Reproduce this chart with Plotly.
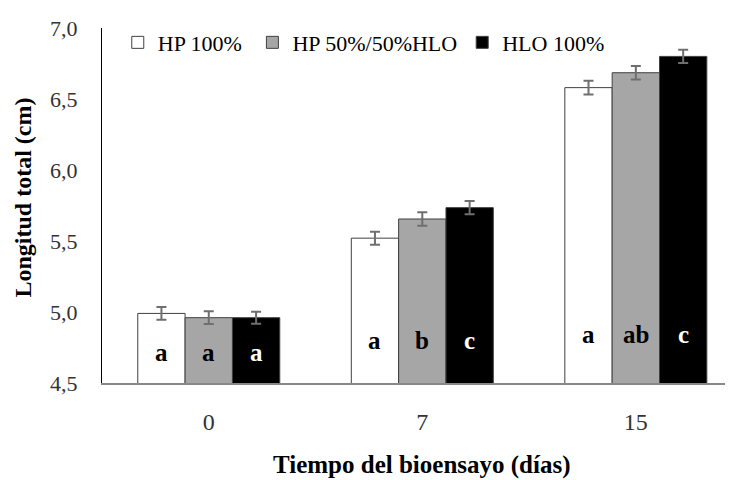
import plotly.graph_objects as go

# ---- data ----
dias = ["0", "7", "15"]
series = ["HP 100%", "HP 50%/50%HLO", "HLO 100%"]
hp100 = [4.99, 5.52, 6.58]
hp50 = [4.96, 5.655, 6.685]
hlo100 = [4.96, 5.735, 6.80]
err_hp100 = [0.045, 0.046, 0.048]
err_hp50 = [0.045, 0.048, 0.048]
err_hlo100 = [0.042, 0.046, 0.046]
letras_hp100 = ["a", "a", "a"]
letras_hp50 = ["a", "b", "ab"]
letras_hlo100 = ["a", "c", "c"]

# ---- layout constants ----
BARGAP = 0.335
letter_y = [4.716, 4.796, 4.842]
FONT = "Liberation Serif"
NB = "\u00a0"
legend_pad = [NB, "", ""]

values = [hp100, hp50, hlo100]
errors = [err_hp100, err_hp50, err_hlo100]
letters = [letras_hp100, letras_hp50, letras_hlo100]
fills = ["#ffffff", "#a6a6a6", "#000000"]
text_colors = ["#000000", "#000000", "#ffffff"]

xpos = list(range(len(dias)))
fig = go.Figure()
for name, pad, vals, errs, fc in zip(series, legend_pad, values, errors, fills):
    fig.add_trace(go.Bar(
        x=xpos, y=vals, name=name + pad,
        marker=dict(color=fc, line=dict(color="#404040", width=1)),
        error_y=dict(type="data", array=errs, color="#6f6f6f", thickness=2, width=5),
    ))

bw = (1 - BARGAP) / len(series)
annotations = []
for j, (labs, tc) in enumerate(zip(letters, text_colors)):
    for i, lab in enumerate(labs):
        annotations.append(dict(
            x=i + (j - 1) * bw, y=letter_y[i], xref="x", yref="y",
            text="<b>%s</b>" % lab, showarrow=False,
            font=dict(family=FONT, size=25, color=tc),
        ))

annotations.append(dict(
    x=1, xref="x", xanchor="center", y=-0.231, yref="paper", yanchor="middle",
    text="<b>Tiempo del bioensayo (días)</b>", showarrow=False,
    font=dict(family=FONT, size=25, color="#000"),
))
annotations.append(dict(
    x=0, xref="paper", xanchor="center", xshift=-80,
    y=0.5, yref="paper", yanchor="middle", yshift=8,
    text="<b>Longitud total (cm)</b>", textangle=-90, showarrow=False,
    font=dict(family=FONT, size=24, color="#000"),
))

fig.update_layout(
    width=733, height=480,
    margin=dict(l=94, r=8, t=12, b=105),
    barmode="group", bargap=BARGAP, bargroupgap=0,
    plot_bgcolor="white", paper_bgcolor="white",
    separators=",.",
    font=dict(family=FONT, size=22, color="#333"),
    legend=dict(orientation="h", x=0.025, xanchor="left", y=0.959, yanchor="middle",
                font=dict(family=FONT, size=22, color="#000"),
                bgcolor="rgba(0,0,0,0)", traceorder="normal", itemwidth=30),
    xaxis=dict(range=[-0.5, 2.455], tickvals=xpos, ticktext=dias,
               showline=True, linecolor="#888", linewidth=2,
               showgrid=False, zeroline=False, ticks="",
               ticklabelstandoff=16, tickfont=dict(size=24, color="#333")),
    yaxis=dict(range=[4.5, 7.0], dtick=0.5, tick0=4.5, tickformat=".1f",
               showline=True, linecolor="#000", linewidth=1,
               showgrid=False, zeroline=False, ticks="",
               ticklabelstandoff=19, tickfont=dict(size=22, color="#333")),
    annotations=annotations,
)

fig.write_html("out.html")
